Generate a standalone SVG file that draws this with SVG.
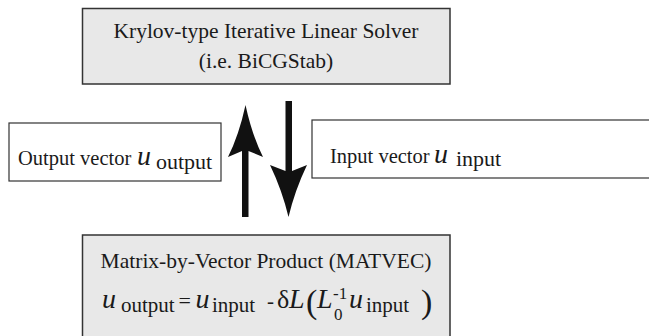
<svg xmlns="http://www.w3.org/2000/svg" width="649" height="336" viewBox="0 0 649 336">
<style>
.t{font-family:"Liberation Serif","Times New Roman",serif;font-size:21.5px;fill:#1a1a1a}
.b{font-family:"Liberation Serif","Times New Roman",serif;font-size:20.5px;fill:#1a1a1a}
.i{font-family:"Liberation Serif","Times New Roman",serif;font-style:italic;font-size:28px;fill:#1a1a1a}
.s{font-family:"Liberation Serif","Times New Roman",serif;font-size:21px;fill:#1a1a1a}
.sm{font-family:"Liberation Serif","Times New Roman",serif;font-size:17px;fill:#1a1a1a}
.gray{fill:#e8e8e8;stroke:#333;stroke-width:1.5}
.white{fill:#fff;stroke:#333;stroke-width:1.2}
.arr{fill:#111}
</style>
<rect width="649" height="336" fill="#fff"/>
<g id="solver">
<rect class="gray" x="82.5" y="8.5" width="367.5" height="75.5"/>
<text class="t" x="266" y="38" text-anchor="middle">Krylov-type Iterative Linear Solver</text>
<text class="t" x="266" y="68" text-anchor="middle">(i.e. BiCGStab)</text>
</g>
<g id="output-vector">
<rect class="white" x="9" y="123" width="212" height="58"/>
<text class="b" x="18" y="165">Output vector</text>
<text class="i" x="137" y="165">u</text>
<text class="s" x="156" y="169" style="font-size:22px">output</text>
</g>
<g id="input-vector">
<rect class="white" x="312" y="120" width="345" height="58"/>
<text class="b" x="330" y="163">Input vector</text>
<text class="i" x="434" y="163">u</text>
<text class="s" x="456" y="166" style="font-size:22px">input</text>
</g>
<g id="matvec">
<rect class="gray" x="82.5" y="235" width="367.5" height="110"/>
<text class="t" x="266" y="268" text-anchor="middle">Matrix-by-Vector Product (MATVEC)</text>
<text class="i" x="102" y="308">u</text>
<text class="s" x="121" y="312">output</text>
<text class="s" x="178.5" y="308" style="font-size:22px">=</text>
<text class="i" x="195.5" y="308">u</text>
<text class="s" x="212" y="312">input</text>
<text class="s" x="267" y="308">-</text>
<text class="s" x="277" y="308" style="font-size:26px">δ</text>
<text class="i" x="289" y="308">L</text>
<text class="s" x="306" y="313" style="font-size:34px">(</text>
<text class="i" x="317" y="308">L</text>
<text class="sm" x="333" y="299">-1</text>
<text class="sm" x="334" y="320">0</text>
<text class="i" x="349" y="308">u</text>
<text class="s" x="366" y="312">input</text>
<text class="s" x="421" y="313" style="font-size:34px">)</text>
</g>
<g id="connectors">
<path class="arr" d="M245.5 105 Q239 135 228 157 L242 151 L242 217 L248.5 217 L248.5 151 L263 157 Q252 135 245.5 105 Z"/>
<path class="arr" d="M285.5 101 L292 101 L292 171 L307 165 Q295 190 288.5 217 Q282 190 270 165 L285.5 171 Z"/>
</g>
</svg>
